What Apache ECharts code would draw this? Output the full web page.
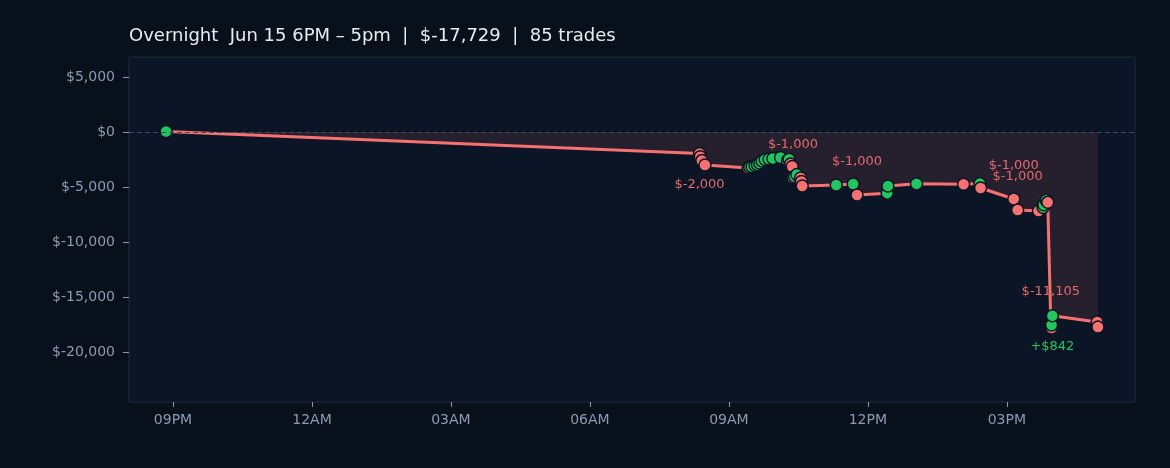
<!DOCTYPE html>
<html>
<head>
<meta charset="utf-8">
<script src="https://cdn.jsdelivr.net/npm/echarts@6/dist/echarts.min.js"></script>
<style>
html,body{margin:0;padding:0;background:#08101b;}
#c{width:1170px;height:468px;}
</style>
</head>
<body>
<div id="c"></div>
<script>
// ---- data ----
const SESSION = 'Overnight  Jun 15 6PM – 5pm';
const TRADE_COUNT = 85;
const tradeTimes = [
  '2025-06-15T20:51','2025-06-16T08:22','2025-06-16T08:23','2025-06-16T08:25','2025-06-16T08:29',
  '2025-06-16T09:25','2025-06-16T09:27','2025-06-16T09:30','2025-06-16T09:34','2025-06-16T09:37',
  '2025-06-16T09:40','2025-06-16T09:43','2025-06-16T09:47','2025-06-16T09:52','2025-06-16T09:57',
  '2025-06-16T10:07','2025-06-16T10:16','2025-06-16T10:18','2025-06-16T10:20','2025-06-16T10:22',
  '2025-06-16T10:23','2025-06-16T10:25','2025-06-16T10:28','2025-06-16T10:33','2025-06-16T10:34',
  '2025-06-16T10:35','2025-06-16T11:19','2025-06-16T11:41','2025-06-16T11:46','2025-06-16T12:25',
  '2025-06-16T12:26','2025-06-16T13:03','2025-06-16T14:04','2025-06-16T14:25','2025-06-16T14:26',
  '2025-06-16T15:09','2025-06-16T15:14','2025-06-16T15:41','2025-06-16T15:47','2025-06-16T15:48',
  '2025-06-16T15:51','2025-06-16T15:53','2025-06-16T15:57','2025-06-16T15:58','2025-06-16T15:58',
  '2025-06-16T15:59','2025-06-16T16:57','2025-06-16T16:58'
];
const tradePnl = [
  50, -2000, -300, -350, -400,
  -270, 90, 50, 85, 95,
  130, 180, 140, 50, 50,
  80, -280, 120, -420, -230,
  -1000, 80, 180, -310, -320,
  -410, 90, 90, -1000, 170,
  650, 210, -50, 60, -400,
  -1000, -1000, -90, 310, 250,
  420, -195, -11105, -320, 280,
  842, -572, -459
];
const yTicks = [-20000, -15000, -10000, -5000, 0, 5000];
const xTickTimes = ['2025-06-15T21:00','2025-06-16T00:00','2025-06-16T03:00','2025-06-16T06:00','2025-06-16T09:00','2025-06-16T12:00','2025-06-16T15:00'];
const xRange = ['2025-06-15T20:03','2025-06-16T17:46'];
const yRange = [-24545, 6818];
const LABEL_MIN = 800;

// ---- build ----
const ts = s => new Date(s + ':00Z').getTime();
const fmtMoney = v => {
  const s = Math.abs(Math.round(v)).toLocaleString('en-US');
  return v < 0 ? '$-' + s : '$' + s;
};
const fmtPnl = v => v >= 0 ? '+$' + Math.round(v).toLocaleString('en-US') : fmtMoney(v);

const RED = '#f87171', GREEN = '#22c55e';
const labelBelow = {1: true, 45: true};
let cum = 0;
const points = tradeTimes.map((t, i) => {
  cum += tradePnl[i];
  const win = tradePnl[i] > 0;
  const item = {
    value: [ts(t), cum],
    itemStyle: { color: win ? GREEN : RED }
  };
  if (Math.abs(tradePnl[i]) >= LABEL_MIN) {
    const below = !!labelBelow[i];
    item.label = {
      show: true,
      formatter: fmtPnl(tradePnl[i]),
      position: below ? 'bottom' : 'top',
      distance: below ? 18 : 20,
      color: win ? GREEN : '#e46a6a',
      fontSize: 13,
      fontFamily: 'DejaVu Sans'
    };
  }
  return item;
});
const total = cum;
const hh = v => {
  const d = new Date(v);
  let h = d.getUTCHours();
  const ap = h >= 12 ? 'PM' : 'AM';
  h = h % 12; if (h === 0) h = 12;
  return (h < 10 ? '0' : '') + h + ap;
};

const chart = echarts.init(document.getElementById('c'), null, {renderer: 'canvas'});
chart.setOption({
  backgroundColor: '#08101b',
  animation: false,
  title: {
    text: SESSION + '  |  ' + fmtMoney(total) + '  |  ' + TRADE_COUNT + ' trades',
    left: 129, top: 27, padding: 0,
    textStyle: { color: '#e6edf3', fontSize: 18, fontWeight: 'normal', fontFamily: 'DejaVu Sans' }
  },
  grid: {
    left: 129, right: 35, top: 57, bottom: 66,
    show: true, backgroundColor: '#0b1525', borderColor: '#1d2b42', borderWidth: 1
  },
  xAxis: {
    type: 'value',
    min: ts(xRange[0]), max: ts(xRange[1]),
    axisLine: { show: false, onZero: false },
    splitLine: { show: false },
    axisTick: { show: true, length: 5, lineStyle: { color: '#8b9bb4' }, customValues: xTickTimes.map(ts) },
    axisLabel: { color: '#8b9bb4', fontSize: 14, fontFamily: 'DejaVu Sans', margin: 11,
      customValues: xTickTimes.map(ts), formatter: hh }
  },
  yAxis: {
    type: 'value',
    min: yRange[0], max: yRange[1],
    axisLine: { show: false, onZero: false },
    splitLine: { show: false },
    axisTick: { show: true, length: 6, lineStyle: { color: '#8b9bb4' }, customValues: yTicks },
    axisLabel: { color: '#8b9bb4', fontSize: 14, fontFamily: 'DejaVu Sans', margin: 14,
      customValues: yTicks, formatter: v => fmtMoney(v) }
  },
  series: [{
    type: 'line',
    data: points,
    symbol: 'circle',
    symbolSize: 12,
    showAllSymbol: true,
    lineStyle: { color: RED, width: 3 },
    itemStyle: { borderColor: '#0b1525', borderWidth: 1.5 },
    areaStyle: { color: 'rgba(248,113,113,0.17)' },
    emphasis: { disabled: true },
    markLine: {
      silent: true, symbol: 'none', label: { show: false },
      lineStyle: { color: '#3e4c63', type: [5, 3], width: 1 },
      data: [{ yAxis: 0 }]
    },
    z: 3
  }]
});
</script>
</body>
</html>
